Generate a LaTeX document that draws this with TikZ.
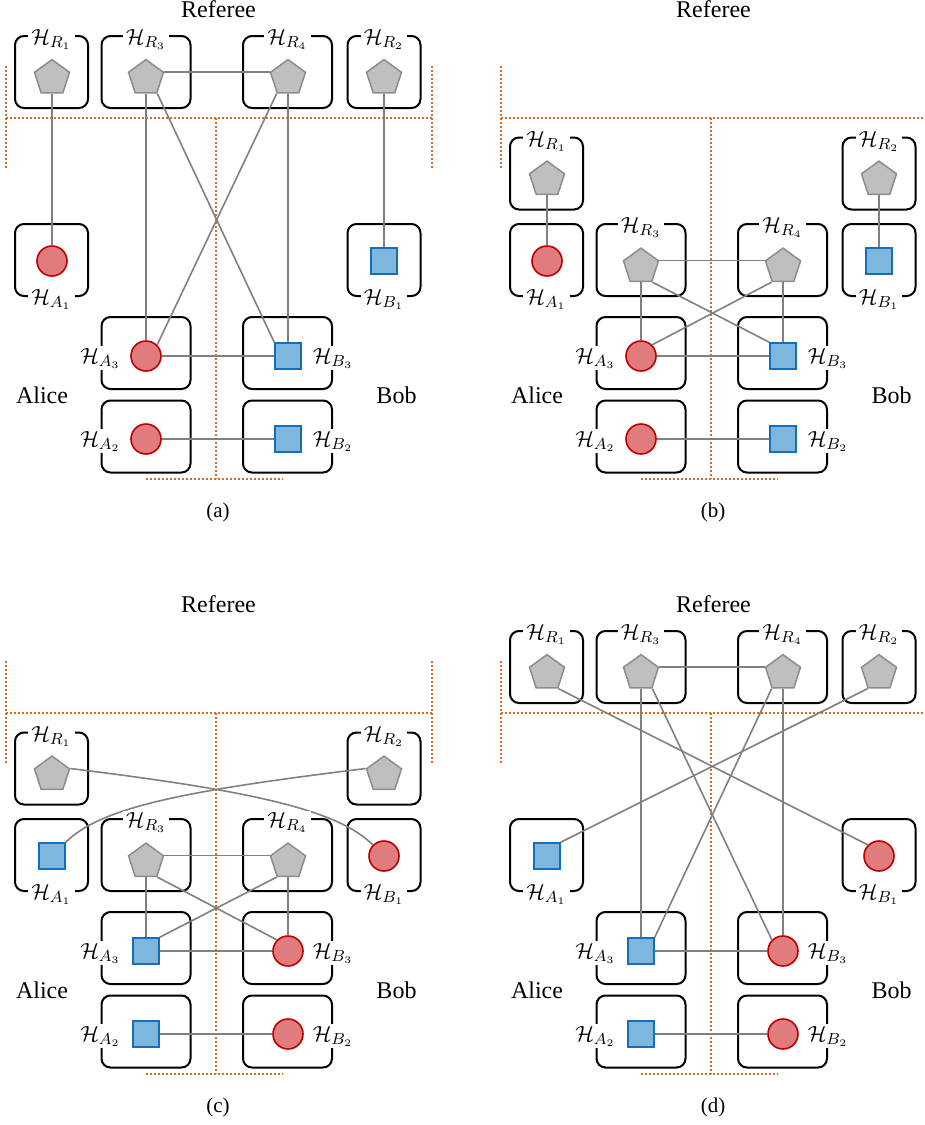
\documentclass[tikz,border=0pt]{standalone}
\usepackage{fontspec}
\setmainfont{Liberation Serif}
\usetikzlibrary{shapes.geometric}

\definecolor{pentfill}{RGB}{191,191,191}
\definecolor{pentdraw}{RGB}{140,140,140}
\definecolor{circfill}{RGB}{224,124,126}
\definecolor{circdraw}{RGB}{192,0,0}
\definecolor{sqfill}{RGB}{127,182,222}
\definecolor{sqdraw}{RGB}{18,110,190}
\definecolor{conngray}{RGB}{128,128,128}
\definecolor{dotorange}{RGB}{212,108,36}

\tikzset{
 sbox/.style={draw=black, line width=1pt, rounded corners=4.5pt, minimum width=36.5pt, minimum height=36pt, inner sep=0pt},
 lbox/.style={sbox, minimum width=44.5pt},
 pent/.style={regular polygon, regular polygon sides=5, minimum size=18.4pt, inner sep=0pt, fill=pentfill, draw=pentdraw, line width=0.75pt},
 circ/.style={circle, minimum size=15pt, inner sep=0pt, fill=circfill, draw=circdraw, line width=0.8pt},
 sq/.style={rectangle, minimum size=13pt, inner sep=0pt, fill=sqfill, draw=sqdraw, line width=0.8pt},
 conn/.style={draw=conngray, line width=0.8pt},
 frame/.style={draw=dotorange, line width=0.8pt, dash pattern=on 0.8pt off 1.2pt},
 hlab/.style={fill=white, inner xsep=1.5pt, inner ysep=1pt, font=\fontsize{11}{13}\selectfont, anchor=base},
 role/.style={font=\fontsize{12}{14}\selectfont, anchor=base},
 capt/.style={font=\fontsize{10.5}{12}\selectfont, anchor=base},
}

\newcommand\frameL{%
 \draw[frame] (6,66) -- (6,169);
 \draw[frame] (6,118) -- (432,118);
 \draw[frame] (432,66) -- (432,169);
 \draw[frame] (216,118) -- (216,479);
 \draw[frame] (146,479) -- (283,479);}
\newcommand\frameR{%
 \draw[frame] (6,66) -- (6,169);
 \draw[frame] (6,118) -- (430,118);
 \draw[frame] (216,118) -- (216,479);
 \draw[frame] (146,479) -- (283,479);}

\newcommand\toprowA{%
 \node[sbox] (bR1) at (51.5,72) {};
 \node[lbox] (bR3) at (146,72) {};
 \node[lbox] (bR4) at (287.5,72) {};
 \node[sbox] (bR2) at (384,72) {};
 \node[pent] (R1) at (52,78) {};
 \node[pent] (R3) at (146,78) {};
 \node[pent] (R4) at (288,78) {};
 \node[pent] (R2) at (384,78) {};}
\newcommand\toprowB{%
 \node[sbox] (bR1) at (51.5,173.5) {};
 \node[sbox] (bR2) at (384,173.5) {};
 \node[lbox] (bR3) at (146,260) {};
 \node[lbox] (bR4) at (287.5,260) {};
 \node[pent] (R1) at (52,179.5) {};
 \node[pent] (R2) at (384,179.5) {};
 \node[pent] (R3) at (146,266.5) {};
 \node[pent] (R4) at (288,266.5) {};}

\newcommand\lowerpart[2]{%
 \node[sbox] (bA1) at (51.5,260) {};
 \node[sbox] (bB1) at (384,260) {};
 \node[lbox] (bA3) at (146,353) {};
 \node[lbox] (bB3) at (287.5,353) {};
 \node[lbox] (bA2) at (146,436.5) {};
 \node[lbox] (bB2) at (287.5,436.5) {};
 \node[#1] (A1) at (52,261) {};
 \node[#2] (B1) at (384,261) {};
 \node[#1] (A3) at (146,356) {};
 \node[#2] (B3) at (288,356) {};
 \node[#1] (A2) at (146,439) {};
 \node[#2] (B2) at (288,439) {};}

\newcommand\centrallinks{%
 \draw[conn] (R3.corner 5) -- (R4.corner 2);
 \draw[conn] (R3) -- (A3);
 \draw[conn] (R3.corner 4) -- (B3.north west);
 \draw[conn] (R4.corner 3) -- (A3.north east);
 \draw[conn] (R4) -- (B3);
 \draw[conn] (A3) -- (B3);
 \draw[conn] (A2) -- (B2);}

\newcommand\panellabels[1]{%
 \node[hlab, yshift=-4.75pt] (lR1) at (bR1.north) {$\mathcal{H}_{R_1}$};
 \node[hlab, yshift=-4.75pt] (lR2) at (bR2.north) {$\mathcal{H}_{R_2}$};
 \node[hlab, yshift=-4.75pt] (lR3) at (bR3.north) {$\mathcal{H}_{R_3}$};
 \node[hlab, yshift=-4.75pt] (lR4) at (bR4.north) {$\mathcal{H}_{R_4}$};
 \node[hlab, yshift=-3.5pt] (lA1) at (bA1.south) {$\mathcal{H}_{A_1}$};
 \node[hlab, yshift=-3.5pt] (lB1) at (bB1.south) {$\mathcal{H}_{B_1}$};
 \node[hlab, yshift=-3.5pt] (lA3) at (bA3.west |- A3) {$\mathcal{H}_{A_3}$};
 \node[hlab, yshift=-3.5pt] (lA2) at (bA2.west |- A2) {$\mathcal{H}_{A_2}$};
 \node[hlab, yshift=-3.5pt] (lB3) at (bB3.east |- B3) {$\mathcal{H}_{B_3}$};
 \node[hlab, yshift=-3.5pt] (lB2) at (bB2.east |- B2) {$\mathcal{H}_{B_2}$};
 \node[role] (referee) at (218.5,17) {Referee};
 \node[role] (alice) at (42,403) {Alice};
 \node[role] (bob) at (396.5,403) {Bob};
 \node[capt] (caption) at (218,517) {(#1)};}

\begin{document}
\begin{tikzpicture}[x=0.5pt, y=-0.5pt]
\useasboundingbox (0,0) rectangle (925,1125);

% ---------- (a)
\begin{scope}[name prefix=a-]
 \frameL
 \toprowA
 \lowerpart{circ}{sq}
 \draw[conn] (R1) -- (A1);
 \draw[conn] (R2) -- (B1);
 \centrallinks
 \panellabels{a}
\end{scope}

% ---------- (b)
\begin{scope}[shift={(495,0)}, name prefix=b-]
 \frameR
 \toprowB
 \lowerpart{circ}{sq}
 \draw[conn] (R1) -- (A1);
 \draw[conn] (R2) -- (B1);
 \centrallinks
 \panellabels{b}
\end{scope}

% ---------- (c)
\begin{scope}[shift={(0,595)}, name prefix=c-]
 \frameL
 \toprowB
 \lowerpart{sq}{circ}
 \draw[conn] (R1.corner 5) .. controls +(178.7,21.9) and +(-35.4,-35.4) .. (B1.north west);
 \draw[conn] (R2.corner 2) .. controls +(-178.7,21.9) and +(35.4,-35.4) .. (A1.north east);
 \centrallinks
 \panellabels{c}
\end{scope}

% ---------- (d)
\begin{scope}[shift={(495,595)}, name prefix=d-]
 \frameR
 \toprowA
 \lowerpart{sq}{circ}
 \draw[conn] (R1.corner 4) -- (B1.north west);
 \draw[conn] (R2.corner 3) -- (A1.north east);
 \centrallinks
 \panellabels{d}
\end{scope}
\end{tikzpicture}
\end{document}
